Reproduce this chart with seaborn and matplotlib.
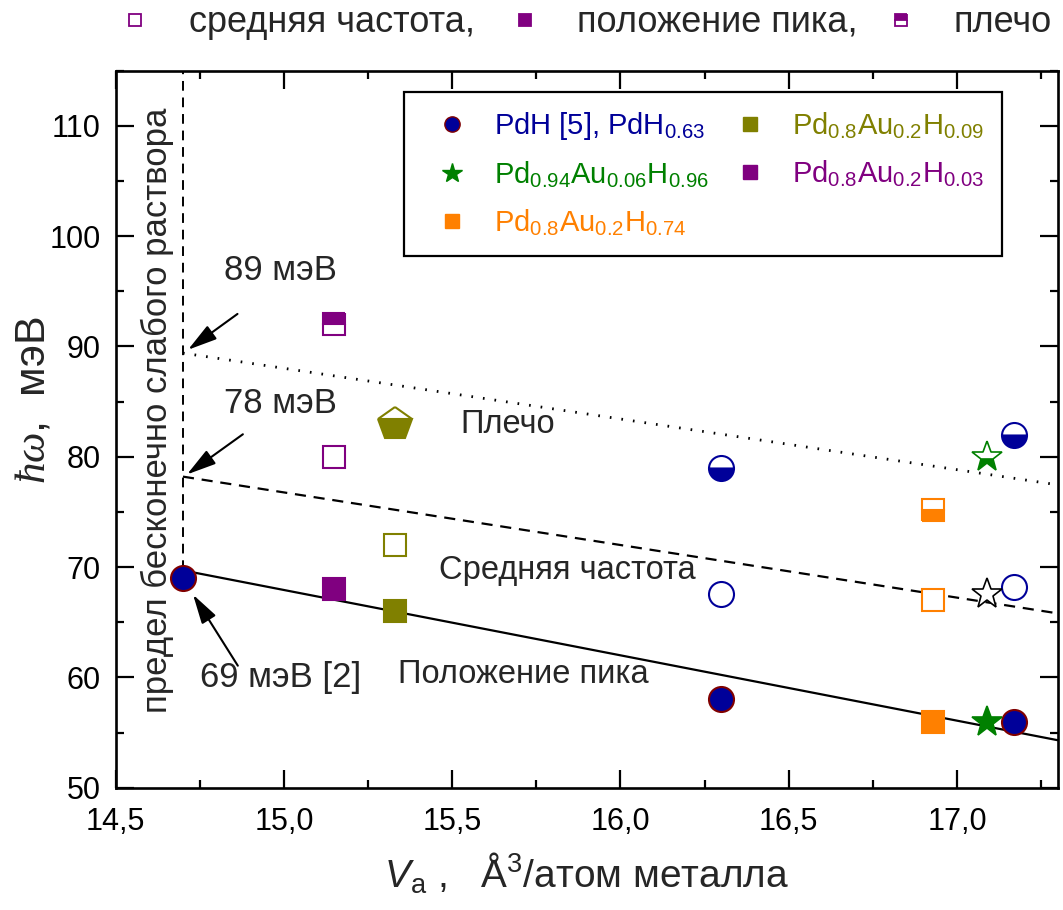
import matplotlib
matplotlib.use("Agg")
import matplotlib.pyplot as plt
import seaborn as sns
from matplotlib.lines import Line2D
from matplotlib.ticker import MultipleLocator, FuncFormatter

# --- data: phonon energies (meV) vs. volume per metal atom (A^3) ---
# PdH [5], PdH0.63
pdh_v = [14.70, 16.30, 17.17]
pdh_peak = [69.0, 58.0, 56.0]
pdh_mean_v = [16.30, 17.17]
pdh_mean = [67.6, 68.2]
pdh_shoulder = [79.0, 82.0]
# Pd0.94Au0.06H0.96
au06_v = [17.09]
au06_peak = [56.0]
au06_mean = [67.6]
au06_shoulder = [80.0]
# Pd0.8Au0.2H0.74
h074_v = [16.93]
h074_peak = [56.0]
h074_mean = [67.0]
h074_shoulder = [75.2]
# Pd0.8Au0.2H0.09
h009_v = [15.33]
h009_peak = [66.0]
h009_mean = [72.0]
h009_shoulder = [83.0]
# Pd0.8Au0.2H0.03
h003_v = [15.15]
h003_peak = [68.0]
h003_mean = [80.0]
h003_shoulder = [92.0]

# linear trends and the dilute-solution limit
fit_v = [14.70, 17.30]
fit_peak = [69.7, 54.3]
fit_mean = [78.2, 65.8]
fit_shoulder = [89.4, 77.45]
limit_v = [14.70, 14.70]
limit_e = [69.7, 115.0]

x_ticks = [14.5, 15.0, 15.5, 16.0, 16.5, 17.0]
y_ticks = [50, 60, 70, 80, 90, 100, 110]

navy = "#000099"
darkred = "#800000"
green = "#008000"
orange = "#FF8000"
olive = "#808000"
purple = "#800080"

sns.set_style("ticks")
plt.rcParams["font.family"] = ["Liberation Sans", "DejaVu Sans"]
plt.rcParams["mathtext.fontset"] = "custom"
plt.rcParams["mathtext.rm"] = "Liberation Sans"
plt.rcParams["mathtext.it"] = "Liberation Serif:italic"
plt.rcParams["mathtext.sf"] = "Liberation Sans:italic"
plt.rcParams["mathtext.default"] = "regular"

fig = plt.figure(figsize=(10.63, 9.10), dpi=100)
ax = fig.add_axes([0.1088, 0.1344, 0.9953 - 0.1088, 0.9223 - 0.1344])

# trend lines
sns.lineplot(x=fit_v, y=fit_peak, ax=ax, color="k", lw=1.6, legend=False,
             estimator=None, sort=False)
sns.lineplot(x=fit_v, y=fit_mean, ax=ax, color="k", lw=1.6, legend=False,
             estimator=None, sort=False, linestyle=(0, (5, 3.5)))
sns.lineplot(x=fit_v, y=fit_shoulder, ax=ax, color="k", lw=2.0, legend=False,
             estimator=None, sort=False, linestyle=(0, (0.6, 3.6)))
sns.lineplot(x=limit_v, y=limit_e, ax=ax, color="k", lw=1.4, legend=False,
             estimator=None, sort=False, linestyle=(0, (5, 3.5)))


def pts(x, y, marker, ms, face, edge, mew=1.5, fill="full", alt="white", z=4):
    ax.plot(x, y, ls="none", marker=marker, ms=ms, mfc=face, mec=edge,
            mew=mew, fillstyle=fill, markerfacecoloralt=alt, zorder=z,
            clip_on=False)


# PdH
pts(pdh_v, pdh_peak, "o", 18, navy, darkred)
pts(pdh_mean_v, pdh_mean, "o", 18, "white", navy)
pts(pdh_mean_v, pdh_shoulder, "o", 18, navy, navy, fill="bottom")
# Pd0.94Au0.06H0.96
pts(au06_v, au06_peak, "*", 23, green, green, mew=1.2)
pts(au06_v, au06_mean, "*", 23, "white", "k", mew=1.2)
pts(au06_v, au06_shoulder, "*", 23, green, green, mew=1.2, fill="bottom")
# Pd0.8Au0.2H0.74
pts(h074_v, h074_peak, "s", 16, orange, orange)
pts(h074_v, h074_mean, "s", 16, "white", orange)
pts(h074_v, h074_shoulder, "s", 16, orange, orange, fill="bottom")
# Pd0.8Au0.2H0.09
pts(h009_v, h009_peak, "s", 16, olive, olive)
pts(h009_v, h009_mean, "s", 16, "white", olive)
pts(h009_v, h009_shoulder, "p", 25, olive, olive, fill="bottom")
# Pd0.8Au0.2H0.03
pts(h003_v, h003_peak, "s", 16, purple, purple)
pts(h003_v, h003_mean, "s", 16, "white", purple)
pts(h003_v, h003_shoulder, "s", 16, purple, purple, fill="top")

# axes
ax.set_xlim(14.5, 17.3)
ax.set_ylim(50, 115)
ax.set_xticks(x_ticks)
ax.set_yticks(y_ticks)
ax.xaxis.set_minor_locator(MultipleLocator(0.25))
ax.yaxis.set_minor_locator(MultipleLocator(5))
ax.xaxis.set_major_formatter(FuncFormatter(lambda v, p: f"{v:.1f}".replace(".", ",")))
ax.tick_params(which="both", direction="in", top=True, right=True,
               width=1.6, colors="k", labelsize=22)
ax.tick_params(which="major", length=13)
ax.tick_params(which="minor", length=6)
ax.tick_params(axis="y", pad=11)
ax.tick_params(axis="x", pad=14)
for s in ax.spines.values():
    s.set_linewidth(1.9)
    s.set_color("k")

ax.set_xlabel(r"$\mathsf{V}_{\rm a}$ ,   Å$^{3}$/атом металла", fontsize=28, labelpad=10)
ax.set_ylabel(r"$\mathit{ħω}$,  мэВ", fontsize=31)
ax.yaxis.set_label_coords(-0.066, 0.541)

# text labels inside the plot
ax.text(14.623, 84.2, "предел бесконечно слабого раствора", rotation=90,
        ha="center", va="center", fontsize=25)
ax.text(15.525, 82.9, "Плечо", ha="left", va="center", fontsize=23.5)
ax.text(15.46, 69.7, "Средняя частота", ha="left", va="center", fontsize=23.5)
ax.text(15.34, 60.3, "Положение пика", ha="left", va="center", fontsize=23.5)

ax.text(14.99, 96.9, "89 мэВ", ha="center", va="center", fontsize=25)
ax.text(14.99, 84.8, "78 мэВ", ha="center", va="center", fontsize=25)
ax.text(14.99, 60.0, "69 мэВ [2]", ha="center", va="center", fontsize=25)

arrow = dict(arrowstyle="-|>,head_length=0.9,head_width=0.25", color="k",
             lw=1.5, mutation_scale=20, shrinkA=0, shrinkB=0)
ax.annotate("", xy=(14.715, 89.7), xytext=(14.862, 92.95), arrowprops=arrow)
ax.annotate("", xy=(14.712, 78.4), xytext=(14.878, 82.04), arrowprops=arrow)
ax.annotate("", xy=(14.73, 67.5), xytext=(14.863, 61.06), arrowprops=arrow)

# sample legend
handles = [
    Line2D([], [], ls="none", marker="o", ms=11, mfc=navy, mec=darkred, mew=1),
    Line2D([], [], ls="none", marker="*", ms=15, mfc=green, mec=green),
    Line2D([], [], ls="none", marker="s", ms=10, mfc=orange, mec=orange),
    Line2D([], [], ls="none", marker="s", ms=10, mfc=olive, mec=olive),
    Line2D([], [], ls="none", marker="s", ms=10, mfc=purple, mec=purple),
]
labels = [
    r"PdH [5], PdH$_{0.63}$",
    r"Pd$_{0.94}$Au$_{0.06}$H$_{0.96}$",
    r"Pd$_{0.8}$Au$_{0.2}$H$_{0.74}$",
    r"Pd$_{0.8}$Au$_{0.2}$H$_{0.09}$",
    r"Pd$_{0.8}$Au$_{0.2}$H$_{0.03}$",
]
label_colors = [navy, green, orange, olive, purple]
leg = ax.legend(handles, labels, ncol=2, loc="upper left",
                bbox_to_anchor=(0.3056, 0.9698), frameon=True, fancybox=False,
                edgecolor="k", fontsize=21, handlelength=2.1,
                handletextpad=0.4, columnspacing=0.35, labelspacing=0.6,
                borderpad=0.6, borderaxespad=0)
leg.get_frame().set_linewidth(1.6)
leg.get_frame().set_alpha(1)
for t, c in zip(leg.get_texts(), label_colors):
    t.set_color(c)

# marker-type key above the plot
key_y = 0.9755
key_items = [
    (135, "full", "white", "средняя частота,", 189),
    (525, "full", purple, "положение пика,", 577),
    (901, "top", purple, "плечо", 953),
]
for mx, fill, face, text, tx in key_items:
    fig.add_artist(Line2D([mx / 1063], [key_y + 0.002], ls="none", marker="s",
                          ms=8, mfc=face, mec=purple, mew=1.3, fillstyle=fill,
                          markerfacecoloralt="white",
                          transform=fig.transFigure))
    fig.text(tx / 1063, key_y, text, ha="left", va="center", fontsize=26)

fig.savefig("out.png", dpi=100)
